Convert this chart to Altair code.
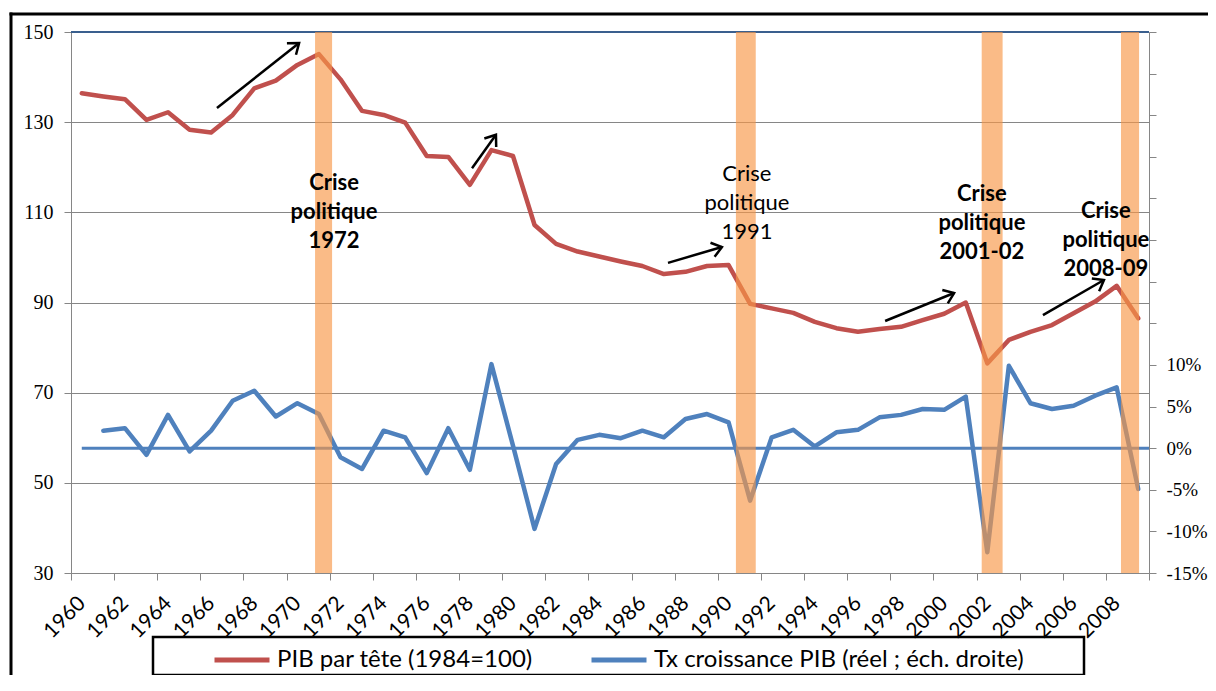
import math
import altair as alt
import pandas as pd

# ---------------- data ----------------
years = list(range(1960, 2010))
pib = [136.4, 135.7, 135.1, 130.5, 132.2, 128.3, 127.7, 131.6, 137.5, 139.2,
       142.7, 145.1, 139.5, 132.5, 131.6, 129.9, 122.5, 122.3, 116.1, 123.8,
       122.5, 107.2, 103.0, 101.3, 100.2, 99.1, 98.1, 96.3, 96.8, 98.1,
       98.3, 89.7, 88.7, 87.7, 85.7, 84.3, 83.5, 84.1, 84.6, 86.1,
       87.5, 90.0, 76.5, 81.7, 83.5, 85.0, 87.6, 90.2, 93.7, 86.5]

growth_years = list(range(1961, 2010))
growth = [2.1, 2.4, -0.8, 4.0, -0.4, 2.1, 5.7, 6.9, 3.8,
          5.4, 4.1, -1.1, -2.5, 2.1, 1.3, -3.0, 2.4, -2.6, 10.1,
          0.3, -9.7, -1.9, 1.0, 1.6, 1.2, 2.1, 1.3, 3.5, 4.1,
          3.1, -6.3, 1.3, 2.2, 0.2, 1.9, 2.2, 3.7, 4.0, 4.7,
          4.6, 6.2, -12.5, 9.9, 5.4, 4.7, 5.1, 6.3, 7.3, -4.9]

series_names = ["PIB par tête (1984=100)", "Tx croissance PIB (réel ; éch. droite)"]
series_colors = ["#C0504D", "#4F81BD"]

crisis_start = [1970.82, 1990.34, 2001.74, 2008.2]
crisis_end = [1971.61, 1991.26, 2002.71, 2009.04]

crisis_text = ["Crise\npolitique\n1972", "Crise\npolitique\n1991",
               "Crise\npolitique\n2001-02", "Crise\npolitique\n2008-09"]
crisis_text_year = [1971.7, 1990.85, 2001.75, 2007.5]
crisis_text_value = [116.5, 118.5, 114.1, 110.3]
crisis_text_bold = [True, False, True, True]

arrow_x0 = [1966.27, 1978.10, 1987.19, 1997.26, 2004.58]
arrow_y0 = [133.15, 119.8, 98.8, 85.9, 87.2]
arrow_x1 = [1970.08, 1979.21, 1989.69, 2000.46, 2007.41]
arrow_y1 = [147.57, 127.2, 102.3, 92.1, 95.0]

left_domain = [30, 150]
left_ticks = [30, 50, 70, 90, 110, 130, 150]
right_domain = [-15, 50]
right_ticks = list(range(-15, 55, 5))
x_domain = [1959.5, 2009.5]
zero_start = 1960

# ---------------- layout ----------------
W, H = 1078, 541
kx = W / (x_domain[1] - x_domain[0])
ky = H / (left_domain[1] - left_domain[0])

pib_df = pd.DataFrame({"year": years, "v": pib, "series": series_names[0]})
gr_df = pd.DataFrame({"year": growth_years, "v": growth, "series": series_names[1]})
crisis_df = pd.DataFrame({"s": crisis_start, "e": crisis_end})
text_df = pd.DataFrame({"x": crisis_text_year, "y": crisis_text_value,
                        "t": crisis_text, "b": crisis_text_bold})
arrow_df = pd.DataFrame({"x0": arrow_x0, "y0": arrow_y0, "x1": arrow_x1, "y1": arrow_y1})
arrow_df["ang"] = [
    math.degrees(math.atan2(-(b1 - b0) * ky, (a1 - a0) * kx)) % 360
    for a0, b0, a1, b1 in zip(arrow_x0, arrow_y0, arrow_x1, arrow_y1)
]
zero_df = pd.DataFrame({"x": [zero_start], "x2": [x_domain[1]], "y": [0]})
top_df = pd.DataFrame({"x": [x_domain[0]], "x2": [x_domain[1]], "y": [left_domain[1]]})
one = pd.DataFrame({"a": [0]})

GRAY = "#868686"

x_scale = alt.Scale(domain=x_domain, nice=False, zero=False)
x_axis = alt.Axis(
    values=[y - 0.5 for y in range(1960, 2011)],
    labelExpr="((datum.value + 0.5) % 2 == 0 && datum.value < 2009) ? format(datum.value + 0.5, 'd') : ''",
    labelAngle=315, labelAlign="right", labelBaseline="middle",
    labelOffset=kx / 2, labelPadding=20, labelOverlap=False, labelFlush=False,
    labelBound=False, labelFont="Lato", labelFontSize=21, labelColor="black",
    tickSize=7, tickColor=GRAY, domainColor=GRAY, grid=False, title=None,
)
X = alt.X("year:Q", scale=x_scale, axis=x_axis)

left_scale = alt.Scale(domain=left_domain, nice=False, zero=False)
right_scale = alt.Scale(domain=right_domain, nice=False, zero=False)

color = alt.Color("series:N", scale=alt.Scale(domain=series_names, range=series_colors),
                  legend=alt.Legend(title=None))

red = alt.Chart(pib_df).mark_line(strokeWidth=4.5, strokeCap="round", strokeJoin="round").encode(
    x=X,
    y=alt.Y("v:Q", scale=left_scale, axis=alt.Axis(
        values=left_ticks, orient="left", grid=True, gridColor=GRAY, gridWidth=1,
        domainColor=GRAY, tickColor=GRAY, tickSize=7, labelFont="Liberation Serif",
        labelFontSize=20, labelColor="black", labelPadding=11, title=None)),
    color=color,
)

blue = alt.Chart(gr_df).mark_line(strokeWidth=4.5, strokeCap="round", strokeJoin="round").encode(
    x=alt.X("year:Q", scale=x_scale),
    y=alt.Y("v:Q", scale=right_scale, axis=alt.Axis(
        values=right_ticks, orient="right", grid=False,
        labelExpr="datum.value <= 10 ? datum.value + '%' : ''",
        domainColor=GRAY, tickColor=GRAY, tickSize=7, labelFont="Liberation Serif",
        labelFontSize=19, labelColor="black", labelPadding=10, title=None)),
    color=color,
)

zero = alt.Chart(zero_df).mark_rule(color="#4F81BD", strokeWidth=3).encode(
    x=alt.X("x:Q", scale=x_scale), x2="x2:Q",
    y=alt.Y("y:Q", scale=right_scale, axis=None),
)

top = alt.Chart(top_df).mark_rule(color="#3A5F8E", strokeWidth=2).encode(
    x=alt.X("x:Q", scale=x_scale), x2="x2:Q",
    y=alt.Y("y:Q", scale=left_scale, axis=None),
)

bands = alt.Chart(crisis_df).mark_rect(color="#F79646", opacity=0.65).encode(
    x=alt.X("s:Q", scale=x_scale), x2="e:Q",
)

shafts = alt.Chart(arrow_df).mark_rule(color="black", strokeWidth=2.5).encode(
    x=alt.X("x0:Q", scale=x_scale), x2="x1:Q",
    y=alt.Y("y0:Q", scale=left_scale, axis=None), y2="y1:Q",
)

heads = alt.Chart(arrow_df).mark_point(
    shape="M-1,-0.75L0,0L-1,0.75", filled=False, stroke="black", strokeWidth=2.5,
    size=380, opacity=1, strokeJoin="miter",
).encode(
    x=alt.X("x1:Q", scale=x_scale),
    y=alt.Y("y1:Q", scale=left_scale, axis=None),
    angle=alt.Angle("ang:Q", scale=None),
)

text_bold = alt.Chart(text_df).transform_filter("datum.b").mark_text(
    font="Lato", fontSize=22, fontWeight="bold", color="black", lineBreak="\n",
    lineHeight=29, align="center", baseline="middle",
).encode(
    x=alt.X("x:Q", scale=x_scale),
    y=alt.Y("y:Q", scale=left_scale, axis=None),
    text="t:N",
)
text_norm = alt.Chart(text_df).transform_filter("!datum.b").mark_text(
    font="Lato", fontSize=22, fontWeight="normal", color="black", lineBreak="\n",
    lineHeight=29, align="center", baseline="middle",
).encode(
    x=alt.X("x:Q", scale=x_scale),
    y=alt.Y("y:Q", scale=left_scale, axis=None),
    text="t:N",
)

frame_top = alt.Chart(one).mark_rule(color="black", strokeWidth=3).encode(
    x=alt.value(-61.5), x2=alt.value(W + 300), y=alt.value(-18),
)
frame_left = alt.Chart(one).mark_rule(color="black", strokeWidth=3).encode(
    x=alt.value(-60), y=alt.value(-19.5), y2=alt.value(H + 300),
)
legend_box = alt.Chart(one).mark_rect(fill=None, stroke="black", strokeWidth=2.5).encode(
    x=alt.value(82), x2=alt.value(1013), y=alt.value(605), y2=alt.value(643),
)

chart = alt.layer(
    red, blue, zero, top, bands, shafts, heads, text_bold, text_norm,
    frame_top, frame_left, legend_box
).resolve_scale(y="independent").properties(
    width=W, height=H,
    padding={"left": 63, "top": 24, "right": 59, "bottom": 102},
    autosize=alt.AutoSizeParams(type="none"),
    background="white",
).configure_view(stroke=None).configure_legend(
    orient="none", legendX=141, legendY=598, direction="horizontal",
    symbolType="stroke", symbolSize=3025, symbolStrokeWidth=5,
    labelFont="Lato", labelFontSize=24, labelColor="black", labelLimit=800,
    labelOffset=5, columnPadding=48, padding=0,
)

chart.save("out.html", embed_options={"renderer": "svg", "actions": False})
